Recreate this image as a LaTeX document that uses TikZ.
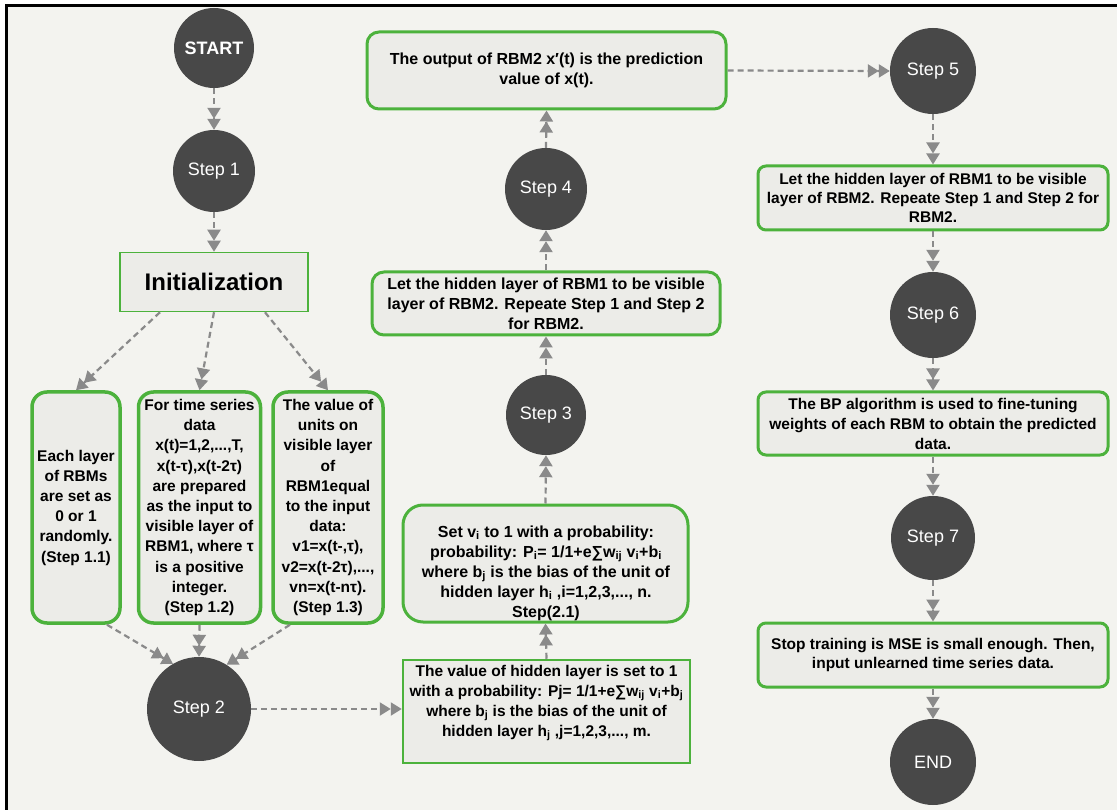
\documentclass[tikz,border=0pt]{standalone}
\usepackage{fontspec}
\setmainfont{Liberation Sans}
\usetikzlibrary{arrows.meta}
\definecolor{bg}{RGB}{243,243,239}
\definecolor{boxfill}{RGB}{236,236,232}
\definecolor{grn}{RGB}{76,178,60}
\definecolor{dark}{RGB}{72,72,72}
\definecolor{arrgray}{RGB}{138,138,138}
\begin{document}
\begin{tikzpicture}[x=1pt,y=-1pt,
  stepc/.style={circle,fill=dark,text=white,inner sep=0pt,font=\fontsize{18}{20}\selectfont},
  rbox/.style={draw=grn,fill=boxfill,line width=3pt,rounded corners=#1,align=center,inner sep=0pt,font=\bfseries\fontsize{16}{20}\selectfont},
  nbox/.style={draw=grn,fill=boxfill,line width=3.5pt,rounded corners=15pt,align=center,inner sep=0pt,font=\bfseries\fontsize{15.5}{20.2}\selectfont},
  tbox/.style={align=center,inner sep=0pt,font=\bfseries\fontsize{16}{20}\selectfont},
  arr/.style={draw=arrgray,line width=2.2pt,dash pattern=on 6pt off 4pt,
    -{Triangle[width=13pt,length=11pt]Triangle[width=13pt,length=11pt]}}
]
\useasboundingbox (0,0) rectangle (1117,810);
\fill[white] (0,0) rectangle (1117,810);
\fill[bg] (6,5) rectangle (1117,810);
\draw[line width=3pt] (6.5,810) -- (6.5,5.5) -- (1117,5.5);

% left column
\node[stepc,minimum size=80pt,font=\bfseries\fontsize{18}{20}\selectfont] (start) at (214,48) {START};
\node[stepc,minimum size=82pt] (s1) at (214,171) {Step 1};
\node[draw=grn,fill=boxfill,line width=1.5pt,minimum width=188pt,minimum height=59pt,inner sep=0pt,
  font=\bfseries\fontsize{24}{28}\selectfont] (init) at (214,282) {Initialization};

\node[nbox,minimum width=88pt,minimum height=231pt] (b11) at (76,507.5)
  {Each layer\\of RBMs\\are set as\\0 or 1\\randomly.\\(Step 1.1)};
\node[nbox,minimum width=122pt,minimum height=231pt] (b12) at (199.5,507.5)
  {For time series\\data\\x(t)=1,2,...,T,\\x(t-τ),x(t-2τ)\\are prepared\\as the input to\\visible layer of\\RBM1, where τ\\is a positive\\integer.\\(Step 1.2)};
\node[nbox,minimum width=110pt,minimum height=231pt] (b13) at (328,507.5)
  {The value of\\units on\\visible layer\\of\\RBM1equal\\to the input\\data:\\v1=x(t-,τ),\\v2=x(t-2τ),...,\\vn=x(t-nτ).\\(Step 1.3)};

\node[stepc,minimum size=104pt] (s2) at (199,709) {Step 2};

% middle column
\node[draw=grn,fill=boxfill,line width=2.5pt,minimum width=287pt,minimum height=103pt] (hb) at (546.5,711.5) {};
\node[tbox,font=\bfseries\fontsize{15.5}{20}\selectfont] (hbt) at (546.5,703)
  {The value of hidden layer is set to 1\\with a probability: Pj= 1/1+e∑w\textsubscript{ij} v\textsubscript{i}+b\textsubscript{j}\\where b\textsubscript{j} is the bias of the unit of\\hidden layer h\textsubscript{j} ,j=1,2,3,..., m.};

\node[rbox=20pt,minimum width=285pt,minimum height=117pt] (sv) at (545.5,563.5) {};
\node[tbox] (svt) at (546,573)
  {Set v\textsubscript{i} to 1 with a probability:\\probability: P\textsubscript{i}= 1/1+e∑w\textsubscript{ij} v\textsubscript{i}+b\textsubscript{i}\\where b\textsubscript{j} is the bias of the unit of\\hidden layer h\textsubscript{i} ,i=1,2,3,..., n.\\Step(2.1)};

\node[stepc,minimum size=80pt] (s3) at (546,415) {Step 3};
\node[rbox=12pt,minimum width=348pt,minimum height=63pt] (mb) at (546,303.5)
  {Let the hidden layer of RBM1 to be visible\\layer of RBM2. Repeate Step 1 and Step 2\\for RBM2.};
\node[stepc,minimum size=82pt] (s4) at (546,189) {Step 4};
\node[rbox=12pt,minimum width=359pt,minimum height=77pt] (ob) at (546.5,70.5)
  {The output of RBM2 x′(t) is the prediction\\value of x(t).};

% right column
\node[stepc,minimum size=86pt] (s5) at (933,71) {Step 5};
\node[rbox=8pt,minimum width=350pt,minimum height=64pt,font=\bfseries\fontsize{15.5}{19}\selectfont] (r1) at (933,198)
  {Let the hidden layer of RBM1 to be visible\\layer of RBM2. Repeate Step 1 and Step 2 for\\RBM2.};
\node[stepc,minimum size=86pt] (s6) at (933,315) {Step 6};
\node[rbox=8pt,minimum width=350pt,minimum height=63pt,font=\bfseries\fontsize{15.5}{20}\selectfont] (bp) at (933,423.5)
  {The BP algorithm is used to fine-tuning\\weights of each RBM to obtain the predicted\\data.};
\node[stepc,minimum size=84pt] (s7) at (933,538) {Step 7};
\node[rbox=8pt,minimum width=350pt,minimum height=64pt,font=\bfseries\fontsize{15.5}{19}\selectfont] (stop) at (933,655)
  {Stop training is MSE is small enough. Then,\\input unlearned time series data.};
\node[stepc,minimum size=86pt] (end) at (933,762) {END};

% connectors
\draw[arr] (start) -- (s1);
\draw[arr] (s1) -- (init);
\draw[arr] ([xshift=-54pt]init.south) -- (b11.north);
\draw[arr] (init.south) -- (b12.north);
\draw[arr] ([xshift=51pt]init.south) -- (b13.north);
\draw[arr] ([xshift=31pt]b11.south) -- (s2.120);
\draw[arr] (b12.south) -- (s2.north);
\draw[arr] ([xshift=-38pt]b13.south) -- (s2.58);
\draw[arr] (s2.east) -- (hb.west |- s2.east);
\draw[arr] (hb.north) -- (sv.south);
\draw[arr] (sv.north) -- (s3.south);
\draw[arr] (s3.north) -- (mb.south);
\draw[arr] (mb.north) -- (s4.south);
\draw[arr] (s4.north) -- (ob.south);
\draw[arr] (ob.east) -- (s5.west);
\draw[arr] (s5) -- (r1);
\draw[arr] (r1) -- (s6);
\draw[arr] (s6) -- (bp);
\draw[arr] (bp) -- (s7);
\draw[arr] (s7) -- (stop);
\draw[arr] (stop) -- (end);
\end{tikzpicture}
\end{document}
